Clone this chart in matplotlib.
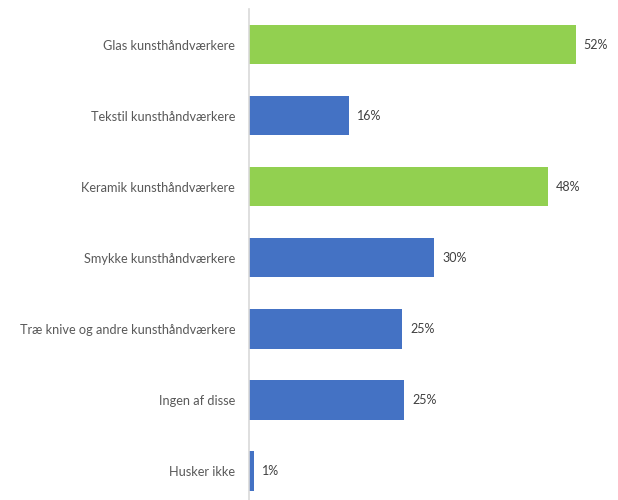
import matplotlib
matplotlib.use("Agg")
import matplotlib.pyplot as plt

categories = ["Glas kunsthåndværkere", "Tekstil kunsthåndværkere", "Keramik kunsthåndværkere",
              "Smykke kunsthåndværkere", "Træ knive og andre kunsthåndværkere", "Ingen af disse",
              "Husker ikke"]
values = [52.0, 15.9, 47.6, 29.5, 24.4, 24.7, 0.8]
labels = ["52%", "16%", "48%", "30%", "25%", "25%", "1%"]
highlight = [True, False, True, False, False, False, False]

plt.rcParams['font.family'] = ['Lato', 'DejaVu Sans']

fig = plt.figure(figsize=(6.18, 5.0), dpi=100)
ax = fig.add_axes([249 / 618, -6.5 / 500, 1 - 249 / 618, 497.5 / 500])

ypos = list(range(len(categories)))
colors = ["#92D050" if h else "#4472C4" for h in highlight]
ax.barh(ypos, values, height=0.555, color=colors, edgecolor="none")
for y, v, lab in zip(ypos, values, labels):
    ax.text(v + 1.3, y, lab, va="center", ha="left", fontsize=9, color="#404040")

ax.set_ylim(len(categories) - 0.5, -0.5)
ax.set_xlim(0, (618 - 249) / 6.28)
ax.set_yticks(ypos)
ax.set_yticklabels(categories, fontsize=9.2, color="#595959")
ax.tick_params(axis="y", length=0, pad=10)
ax.set_xticks([])
for s in ["top", "right", "bottom"]:
    ax.spines[s].set_visible(False)
ax.spines["left"].set_color("#D9D9D9")
ax.spines["left"].set_linewidth(1.2)

fig.savefig("out.png", dpi=100)
